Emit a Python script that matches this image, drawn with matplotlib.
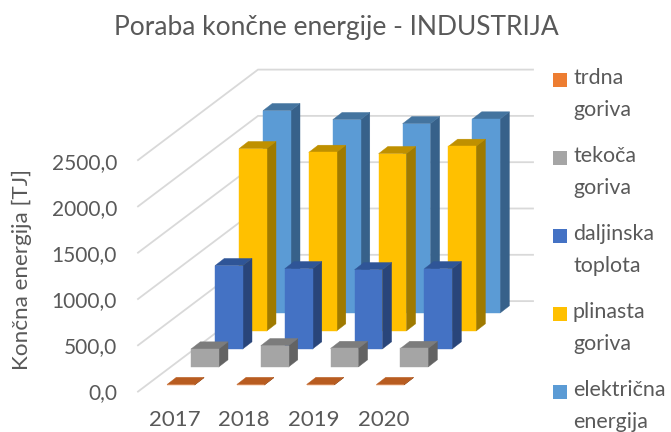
import matplotlib
matplotlib.use("Agg")
import matplotlib.pyplot as plt
from matplotlib.patches import Polygon, Rectangle

plt.rcParams["font.family"] = ["Lato", "DejaVu Sans"]

years = ["2017", "2018", "2019", "2020"]
ticks = [0, 500, 1000, 1500, 2000, 2500]
tick_labels = ["0,0", "500,0", "1000,0", "1500,0", "2000,0", "2500,0"]

trdna = [5, 5, 5, 5]
tekoca = [194, 230, 200, 200]
daljinska = [900, 867, 856, 867]
plinasta = [1969, 1929, 1915, 1994]
elektricna = [2185, 2088, 2044, 2095]

names = ["trdna\ngoriva", "tekoča\ngoriva", "daljinska\ntoplota", "plinasta\ngoriva", "električna\nenergija"]
series = [trdna, tekoca, daljinska, plinasta, elektricna]

# front, top, side
colors = [
    ("#ED7D31", "#B85C20", "#8E4A1C"),
    ("#A5A5A5", "#7C7C7C", "#636363"),
    ("#4472C4", "#2F5597", "#29457A"),
    ("#FFC000", "#BF9000", "#9F7A00"),
    ("#5B9BD5", "#44749F", "#37618A"),
]

TEXT = "#595959"
GRID = "#D9D9D9"
PX_PER_UNIT = 46.3 / 500


def val_y(v):
    return 391.6 - v * PX_PER_UNIT


def draw_bar(ax, x, y0, v, col):
    w, dx, dy = 27.7, 9.3, 7.2
    top = y0 - v * PX_PER_UNIT
    front, up, side = col
    ax.add_patch(Polygon([(x + w, y0), (x + w + dx, y0 - dy), (x + w + dx, top - dy), (x + w, top)],
                         fc=side, ec=side, lw=0.3, zorder=3))
    ax.add_patch(Polygon([(x, top), (x + dx, top - dy), (x + w + dx, top - dy), (x + w, top)],
                         fc=up, ec=up, lw=0.3, zorder=3))
    ax.add_patch(Rectangle((x, top), w, y0 - top, fc=front, ec=front, lw=0.3, zorder=3))


def main():
    fig = plt.figure(figsize=(6.71, 4.32), dpi=100)
    ax = fig.add_axes([0, 0, 1, 1])
    ax.set_xlim(0, 671)
    ax.set_ylim(432, 0)
    ax.axis("off")

    # side wall + back wall gridlines
    for t, lab in zip(ticks, tick_labels):
        y = val_y(t)
        ax.plot([138, 258, 533], [y, y - 90.5, y - 90.5], color=GRID, lw=1.3, solid_joinstyle="miter", zorder=1)
        ax.text(117, 393 - t * 0.0918, lab, ha="right", va="center", fontsize=15, color=TEXT)

    # back series first so the front ones cover them
    for s in range(len(series) - 1, -1, -1):
        for c, v in enumerate(series[s]):
            draw_bar(ax, 167 + 24 * s + 69.8 * c, 385 - 18 * s, v, colors[s])

    for c, y in enumerate(years):
        ax.text(174.5 + 69.8 * c, 420, y, ha="center", va="center", fontsize=16, color=TEXT)

    ax.text(336, 28, "Poraba končne energije - INDUSTRIJA", ha="center", va="center", fontsize=19, color=TEXT)
    ax.text(22, 270, "Končna energija [TJ]", ha="center", va="center", rotation=90, fontsize=16.2, color=TEXT)

    for s, name in enumerate(names):
        y = 73 + 78 * s
        ax.add_patch(Rectangle((553, y), 14, 14, fc=colors[s][0], ec="none"))
        ax.text(573, y + 21, name, ha="left", va="center", fontsize=15.4, color=TEXT, linespacing=1.7)

    fig.savefig("out.png", dpi=100)


if __name__ == "__main__":
    main()
